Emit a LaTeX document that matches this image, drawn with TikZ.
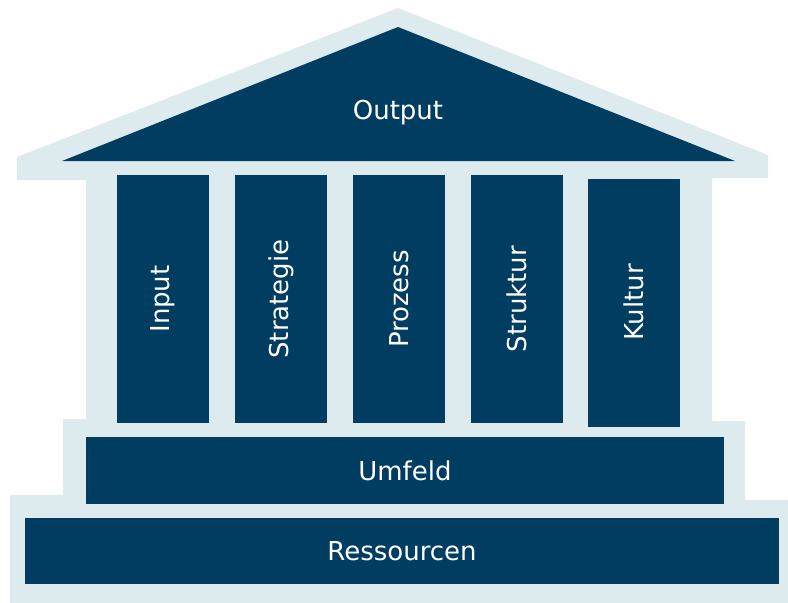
\documentclass[tikz,border=0pt]{standalone}
\usepackage{fontspec}
\setmainfont{DejaVu Sans}
\usepackage{tikz}
\usetikzlibrary{positioning}
\definecolor{TempleBlue}{HTML}{003D61}
\definecolor{TempleLight}{HTML}{DDEBEE}

\begin{document}
\begin{tikzpicture}[x=1pt, y=-1pt,
                    block/.style={fill=TempleBlue, text=white, inner sep=0pt,
                                  font=\fontsize{26}{30}\selectfont},
                    pillar/.style={block, rotate=90, minimum width=248pt, minimum height=92pt}]
\useasboundingbox (0,0) rectangle (788,603);
% light outline of the temple
\fill[TempleLight] (17,157) -- (398,8) -- (768,155) -- (768,178) -- (712,178)
  -- (712,421) -- (745,421) -- (745,500) -- (788,500) -- (788,603) -- (10,603)
  -- (10,495) -- (63,495) -- (63,419) -- (86,419) -- (86,180) -- (17,180) -- cycle;
% roof
\fill[TempleBlue] (62,161) -- (398,27) -- (735,161) -- cycle;
\node[font=\fontsize{26}{30}\selectfont, text=white] (output) at (398,113) {Output};
% pillars
\node[pillar] (input) at (162.5,299) {Input};
\node[pillar] (strategie) at (281,299) {Strategie};
\node[pillar] (prozess) at (399,299) {Prozess};
\node[pillar] (struktur) at (516.5,299) {Struktur};
\node[pillar] (kultur) at (634,302.5) {Kultur};
% steps
\node[block, minimum width=638pt, minimum height=67pt] (umfeld) at (405,470.5) {Umfeld};
\node[block, minimum width=754pt, minimum height=66pt] (ressourcen) at (402,551) {Ressourcen};
\end{tikzpicture}
\end{document}
